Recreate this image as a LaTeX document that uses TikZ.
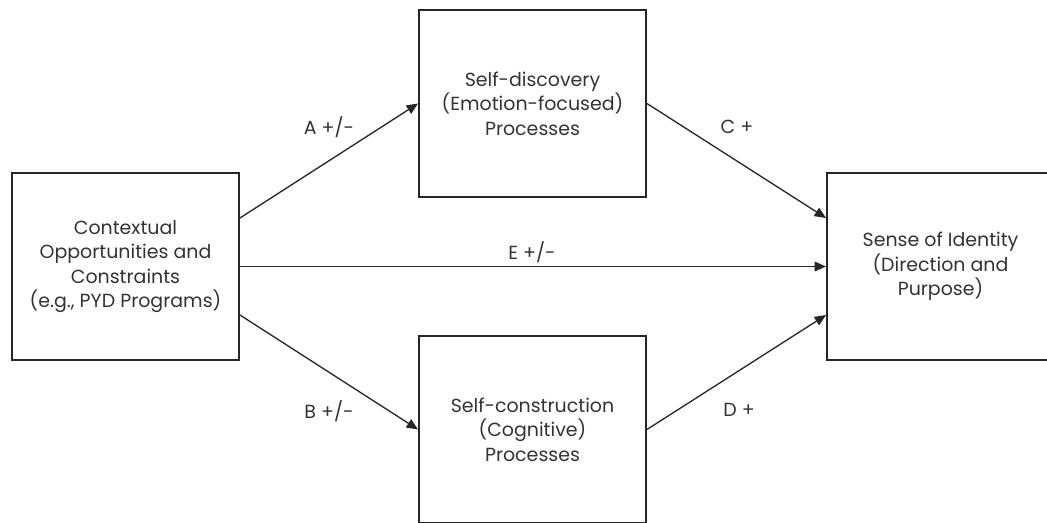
\documentclass[tikz,border=0pt]{standalone}
\usepackage{fontspec}
\setmainfont{Poppins}
\usepackage{tikz}
\usetikzlibrary{arrows.meta}

\begin{document}
\begin{tikzpicture}[
    x=0.02cm, y=-0.02cm,
    block/.style={rectangle,draw=black!85,line width=1.1pt,minimum width=4.54cm,minimum height=3.74cm,
      align=center,text=black!80,font=\fontsize{10.8}{14}\selectfont},
    arrow/.style={-{Triangle[length=6.5pt,width=5.5pt]},line width=0.75pt,black!85},
    lbl/.style={text=black!80,font=\fontsize{10.8}{14}\selectfont}
]
\useasboundingbox (0,0) rectangle (1047,523);

\node[block] (ctx) at (125.5,266.5) {Contextual\\Opportunities and\\Constraints\\(e.g., PYD Programs)};
\node[block] (disc) at (532.5,103.5) {Self-discovery\\(Emotion-focused)\\Processes};
\node[block] (cons) at (532.5,429.5) {Self-construction\\(Cognitive)\\Processes};
\node[block] (ident) at (940.5,266.5) {Sense of Identity\\(Direction and\\Purpose)};

\draw[arrow] ([yshift=0.97cm]ctx.east) -- (disc.west);
\draw[arrow] ([yshift=-0.97cm]ctx.east) -- (cons.west);
\draw[arrow] (disc.east) -- ([yshift=0.97cm]ident.west);
\draw[arrow] (cons.east) -- ([yshift=-0.97cm]ident.west);
\draw[arrow] (ctx.east) -- (ident.west);

\node[lbl] (la) at (329,127) {A +/-};
\node[lbl] (lb) at (329,411) {B +/-};
\node[lbl] (lc) at (737,127) {C +};
\node[lbl] (ld) at (739,410) {D +};
\node[lbl] (le) at (532,252) {E +/-};

\end{tikzpicture}
\end{document}
